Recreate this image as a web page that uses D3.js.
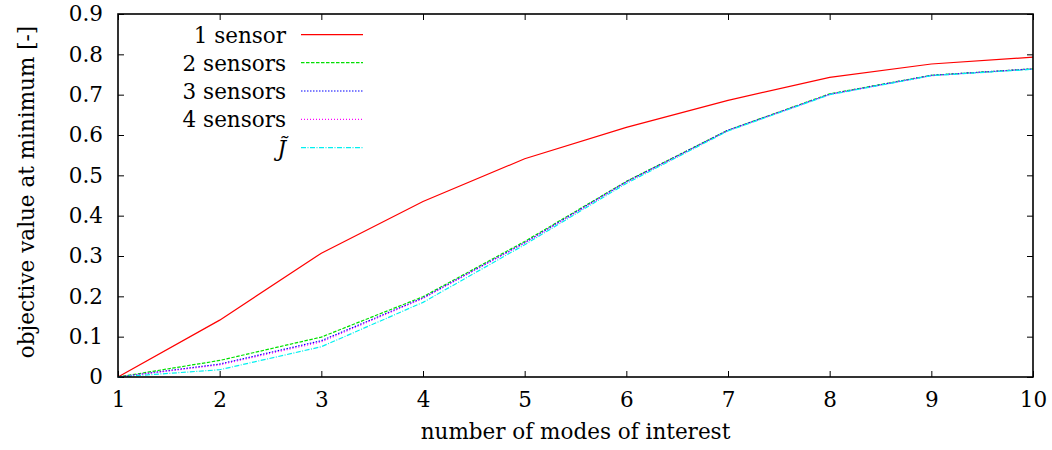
<!DOCTYPE html>
<html><head><meta charset="utf-8">
<script src="https://cdn.jsdelivr.net/npm/d3@7"></script>
<style>body{margin:0;background:#fff}svg{display:block}</style>
</head><body><svg id="c" width="1052" height="450"></svg>
<script>
const modes = [1,2,3,4,5,6,7,8,9,10];
const yTicks = [0,0.1,0.2,0.3,0.4,0.5,0.6,0.7,0.8,0.9];
const seriesNames = ["1 sensor","2 sensors","3 sensors","4 sensors","J̃"];
const sensor1 = [0,0.141,0.307,0.435,0.541,0.619,0.686,0.743,0.776,0.793];
const sensor2 = [0,0.041,0.099,0.199,0.336,0.485,0.612,0.702,0.748,0.764];
const sensor3 = [0,0.032,0.090,0.196,0.333,0.484,0.612,0.701,0.748,0.764];
const sensor4 = [0,0.030,0.087,0.195,0.332,0.483,0.611,0.701,0.747,0.764];
const jTilde  = [0,0.018,0.075,0.185,0.328,0.480,0.610,0.700,0.747,0.763];
const colors = ["#ff0000","#00e000","#0000ff","#ff00ff","#00f0f0"];
const dashes = [null,"3.5,1.5","1.5,1.5","1,2","5,1.5,1,1.5"];
const allSeries = [sensor1,sensor2,sensor3,sensor4,jTilde];
const FONT = "DejaVu Serif";
const FS = 21.5;

const svg = d3.select("#c");
const L=118,R=1033,T=14,B=377;
const x = d3.scaleLinear().domain([1,10]).range([L,R]);
const y = d3.scaleLinear().domain([0,0.9]).range([B,T]);

const style = a=>{a.select(".domain").remove();a.attr("font-family",FONT).attr("font-size",FS);
  a.selectAll("text").attr("font-family",FONT).attr("font-size",FS).attr("fill","#000");
  a.selectAll("line").attr("stroke","#000").attr("stroke-width",1);};
svg.append("g").attr("transform",`translate(0,${B})`).call(d3.axisBottom(x).tickValues(modes).tickSize(-6).tickPadding(15).tickFormat(d3.format("d"))).call(style);
svg.append("g").attr("transform",`translate(0,${T})`).call(d3.axisTop(x).tickValues(modes).tickSize(-6).tickFormat("")).call(style);
svg.append("g").attr("transform",`translate(${L},0)`).call(d3.axisLeft(y).tickValues(yTicks).tickSize(-6).tickPadding(15).tickFormat(d=>d===0?"0":d3.format(".1f")(d))).call(style);
svg.append("g").attr("transform",`translate(${R},0)`).call(d3.axisRight(y).tickValues(yTicks).tickSize(-6).tickFormat("")).call(style);

const line = d3.line().x((d,i)=>x(modes[i])).y(d=>y(d));
allSeries.forEach((s,i)=>{
  svg.append("path").datum(s).attr("d",line).attr("fill","none").attr("stroke",colors[i])
    .attr("stroke-width",1.2).attr("stroke-dasharray",dashes[i]);
});

svg.append("rect").attr("x",L).attr("y",T).attr("width",R-L).attr("height",B-T)
  .attr("fill","none").attr("stroke","#000").attr("stroke-width",1.6);

const ly = [34.7,62.7,91,119.3,147.7];
seriesNames.forEach((n,i)=>{
  const t = svg.append("text").attr("x",286).attr("y",ly[i]+8).attr("text-anchor","end")
    .attr("font-family",FONT).attr("font-size",FS).attr("fill","#000").text(n);
  if(i===4) t.attr("font-style","italic");
  svg.append("line").attr("x1",301).attr("x2",363).attr("y1",ly[i]).attr("y2",ly[i])
    .attr("stroke",colors[i]).attr("stroke-width",1.2).attr("stroke-dasharray",dashes[i]);
});

svg.append("text").attr("x",(L+R)/2).attr("y",439).attr("text-anchor","middle")
  .attr("font-family",FONT).attr("font-size",FS).attr("fill","#000").text("number of modes of interest");
svg.append("text").attr("transform",`translate(34,192) rotate(-90)`).attr("text-anchor","middle")
  .attr("font-family",FONT).attr("font-size",FS).attr("fill","#000").text("objective value at minimum [-]");
</script></body></html>
